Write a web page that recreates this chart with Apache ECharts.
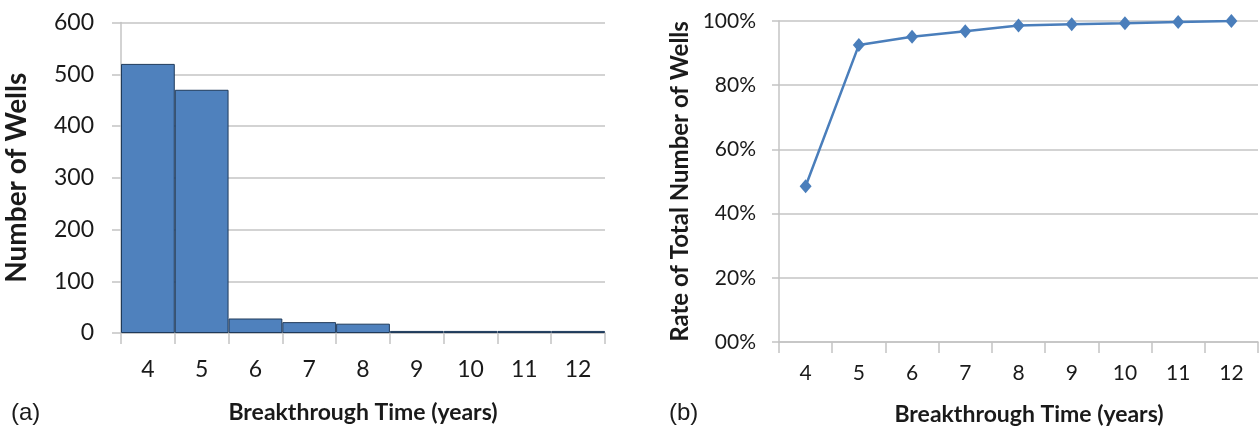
<!DOCTYPE html>
<html>
<head>
<meta charset="utf-8">
<script src="https://cdn.jsdelivr.net/npm/echarts@6/dist/echarts.min.js"></script>
<style>
html,body{margin:0;padding:0;background:#fff;}
#c{width:1259px;height:431px;}
</style>
</head>
<body>
<div id="c"></div>
<script>
var categories = ['4','5','6','7','8','9','10','11','12'];
var wellCounts = [520, 470, 28, 21, 18, 4, 4, 4, 4];
var cumulativeRate = [0.485, 0.925, 0.951, 0.968, 0.986, 0.990, 0.993, 0.997, 1.000];
var leftYTicks = [0, 100, 200, 300, 400, 500, 600];
var rightYTickLabels = ['00%', '20%', '40%', '60%', '80%', '100%'];

var chart = echarts.init(document.getElementById('c'), null, {renderer: 'canvas'});
var txt = '#1a1a1a';
var gridCol = '#c4c4c4';
var font = 'Lato';

function xAxisCfg(gridIndex, fs, labelMargin, nameGap, namePad) {
  return {
    type: 'category', gridIndex: gridIndex, data: categories, boundaryGap: true,
    axisLine: {show: true, lineStyle: {color: gridCol, width: 1.5}},
    axisTick: {show: true, interval: 0, length: 11, lineStyle: {color: gridCol, width: 1.5}},
    axisLabel: {color: txt, fontSize: fs, fontFamily: font, margin: labelMargin, interval: 0},
    name: 'Breakthrough Time (years)', nameLocation: 'middle', nameGap: nameGap,
    nameTextStyle: {color: txt, fontSize: 23, fontWeight: 'bold', fontFamily: font, padding: namePad}
  };
}

var option = {
  animation: false,
  backgroundColor: '#fff',
  title: [
    {text: '(a)', left: 6, top: 396, textStyle: {fontFamily: 'Liberation Sans', fontSize: 24, fontWeight: 'normal', color: txt}},
    {text: '(b)', left: 664, top: 396, textStyle: {fontFamily: 'Liberation Sans', fontSize: 24, fontWeight: 'normal', color: txt}}
  ],
  grid: [
    {left: 121, right: 654, top: 22.5, bottom: 98},
    {left: 779, right: 1, top: 21, bottom: 88}
  ],
  xAxis: [xAxisCfg(0, 23, 25, 68, [0, 0, 0, 0]), xAxisCfg(1, 21, 21, 61, [0, 0, 0, 21])],
  yAxis: [
    {
      type: 'value', gridIndex: 0, min: leftYTicks[0], max: leftYTicks[leftYTicks.length - 1], interval: 100,
      axisLine: {show: true, lineStyle: {color: gridCol, width: 1.5}},
      axisTick: {show: true, length: 9, lineStyle: {color: gridCol, width: 1.5}},
      splitLine: {show: true, lineStyle: {color: gridCol, width: 1.5}},
      axisLabel: {color: txt, fontSize: 23, fontFamily: font, margin: 27},
      name: 'Number of Wells', nameLocation: 'middle', nameGap: 90,
      nameTextStyle: {color: txt, fontSize: 28, fontWeight: 'bold', fontFamily: font}
    },
    {
      type: 'value', gridIndex: 1, min: 0, max: 1, interval: 0.2,
      axisLine: {show: true, lineStyle: {color: gridCol, width: 1.5}},
      axisTick: {show: true, length: 7, lineStyle: {color: gridCol, width: 1.5}},
      splitLine: {show: true, lineStyle: {color: gridCol, width: 1.5}},
      axisLabel: {color: txt, fontSize: 21, fontFamily: font, margin: 23,
        formatter: function (v) { return rightYTickLabels[Math.round(v * 5)]; }},
      name: 'Rate of Total Number of Wells', nameLocation: 'middle', nameGap: 87,
      nameTextStyle: {color: txt, fontSize: 24, fontWeight: 'bold', fontFamily: font}
    }
  ],
  series: [
    {
      type: 'bar', xAxisIndex: 0, yAxisIndex: 0, data: wellCounts,
      barCategoryGap: 0,
      itemStyle: {color: '#4f81bd', borderColor: '#1f3a5a', borderWidth: 1}
    },
    {
      type: 'line', xAxisIndex: 1, yAxisIndex: 1, data: cumulativeRate,
      symbol: 'diamond', symbolSize: [12, 14],
      lineStyle: {color: '#4a7ebb', width: 2.5},
      itemStyle: {color: '#4a7ebb'}
    }
  ]
};
chart.setOption(option);
</script>
</body>
</html>
